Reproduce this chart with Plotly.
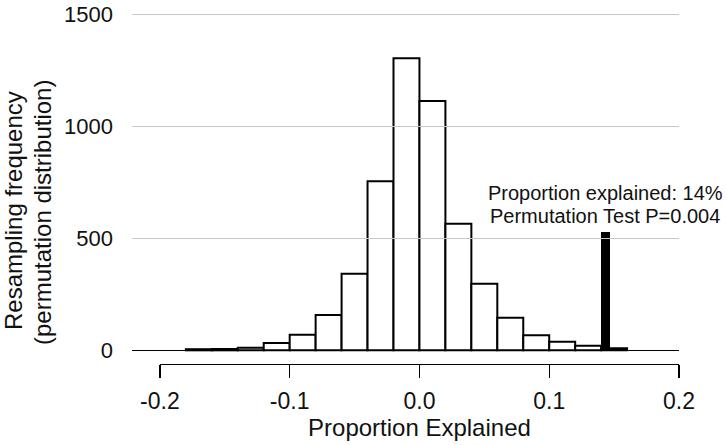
import plotly.graph_objects as go

# ---- data ----
bin_left = [-0.18, -0.16, -0.14, -0.12, -0.10, -0.08, -0.06, -0.04, -0.02,
            0.00, 0.02, 0.04, 0.06, 0.08, 0.10, 0.12, 0.14]
bin_counts = [5, 6, 12, 33, 69, 158, 342, 755, 1304,
              1113, 565, 297, 145, 67, 38, 20, 9]
bin_width = 0.02

observed_value = [0.1432]
observed_height = [527]

x_tickvals = [-0.2, -0.1, 0.0, 0.1, 0.2]
x_ticktext = ["-0.2", "-0.1", "0.0", "0.1", "0.2"]
y_tickvals = [0, 500, 1000, 1500]
y_ticktext = ["0", "500", "1000", "1500"]

ann_line1 = "Proportion explained: 14%"
ann_line2 = "Permutation Test P=0.004"
x_title = "Proportion Explained"
y_title1 = "Resampling frequency"
y_title2 = "(permutation distribution)"

# ---- layout constants ----
FONT = "Liberation Sans, Arial, sans-serif"
TXT = "#111111"
X_LO, X_HI = -0.2215, 0.2
Y_LO, Y_HI = -61, 1510
W, H = 727, 445
ML, MR, MT, MB = 132, 48, 12, 81
PW = W - ML - MR
PH = H - MT - MB

centers = [b + bin_width / 2 for b in bin_left]

fig = go.Figure()
fig.add_trace(go.Bar(
    x=centers, y=bin_counts, width=[bin_width] * len(centers),
    marker=dict(color="white", line=dict(color="black", width=2)),
    hoverinfo="skip", showlegend=False,
))
fig.add_trace(go.Bar(
    x=observed_value, y=observed_height, width=[0.0066],
    marker=dict(color="black", line=dict(color="black", width=0)),
    hoverinfo="skip", showlegend=False,
))
# invisible trace to host the visible x axis (R-style axis spanning -0.2..0.2)
fig.add_trace(go.Scatter(
    x=[x_tickvals[0], x_tickvals[-1]], y=[0, 0], xaxis="x2", yaxis="y",
    mode="markers", marker=dict(opacity=0), hoverinfo="skip", showlegend=False,
))

d0 = (x_tickvals[0] - X_LO) / (X_HI - X_LO)

fig.update_layout(
    width=W, height=H,
    margin=dict(l=ML, r=MR, t=MT, b=MB, pad=0, autoexpand=False),
    paper_bgcolor="white", plot_bgcolor="rgba(0,0,0,0)",
    bargap=0, barmode="overlay",
    font=dict(family=FONT, color=TXT, size=22),
    xaxis=dict(range=[X_LO, X_HI], domain=[0, 1], visible=False, fixedrange=True,
               automargin=False),
    xaxis2=dict(
        range=[x_tickvals[0], x_tickvals[-1]], domain=[d0, 1], anchor="y",
        automargin=False,
        showgrid=False, zeroline=False, showline=True, linecolor="black", linewidth=1.3,
        ticks="outside", ticklen=13, tickwidth=1.3, tickcolor="black",
        tickvals=x_tickvals, ticktext=x_ticktext,
        tickfont=dict(size=23, family=FONT, color=TXT), ticklabelstandoff=3,
        title=dict(text=x_title, font=dict(size=24, family=FONT, color=TXT), standoff=6),
    ),
    yaxis=dict(
        range=[Y_LO, Y_HI], domain=[0, 1], anchor="x", automargin=False,
        showgrid=True, gridcolor="#c8c8c8", gridwidth=1,
        zeroline=True, zerolinecolor="black", zerolinewidth=1.5,
        showline=False, ticks="",
        tickvals=y_tickvals, ticktext=y_ticktext, ticklabeloverflow="allow",
        tickfont=dict(size=22, family=FONT, color=TXT), ticklabelstandoff=18,
    ),
    showlegend=False,
)

annotations = [
    dict(x=observed_value[0], y=observed_height[0], xref="x", yref="y",
         text=ann_line2, showarrow=False, xanchor="center", yanchor="bottom",
         yshift=3, font=dict(size=20, family=FONT, color=TXT)),
    dict(x=observed_value[0], y=observed_height[0], xref="x", yref="y",
         text=ann_line1, showarrow=False, xanchor="center", yanchor="bottom",
         yshift=26, font=dict(size=20, family=FONT, color=TXT)),
    dict(x=(13 - ML) / PW, y=(H - MB - 211) / PH, xref="paper", yref="paper",
         text=y_title1, showarrow=False, textangle=-90, xanchor="center", yanchor="middle",
         font=dict(size=24, family=FONT, color=TXT)),
    dict(x=(42 - ML) / PW, y=(H - MB - 213) / PH, xref="paper", yref="paper",
         text=y_title2, showarrow=False, textangle=-90, xanchor="center", yanchor="middle",
         font=dict(size=24, family=FONT, color=TXT)),
]
fig.update_layout(annotations=annotations)

fig.write_html(
    "out.html",
    config={"displayModeBar": False, "staticPlot": True},
    post_script="document.body.style.margin='0';document.body.style.padding='0';",
)
